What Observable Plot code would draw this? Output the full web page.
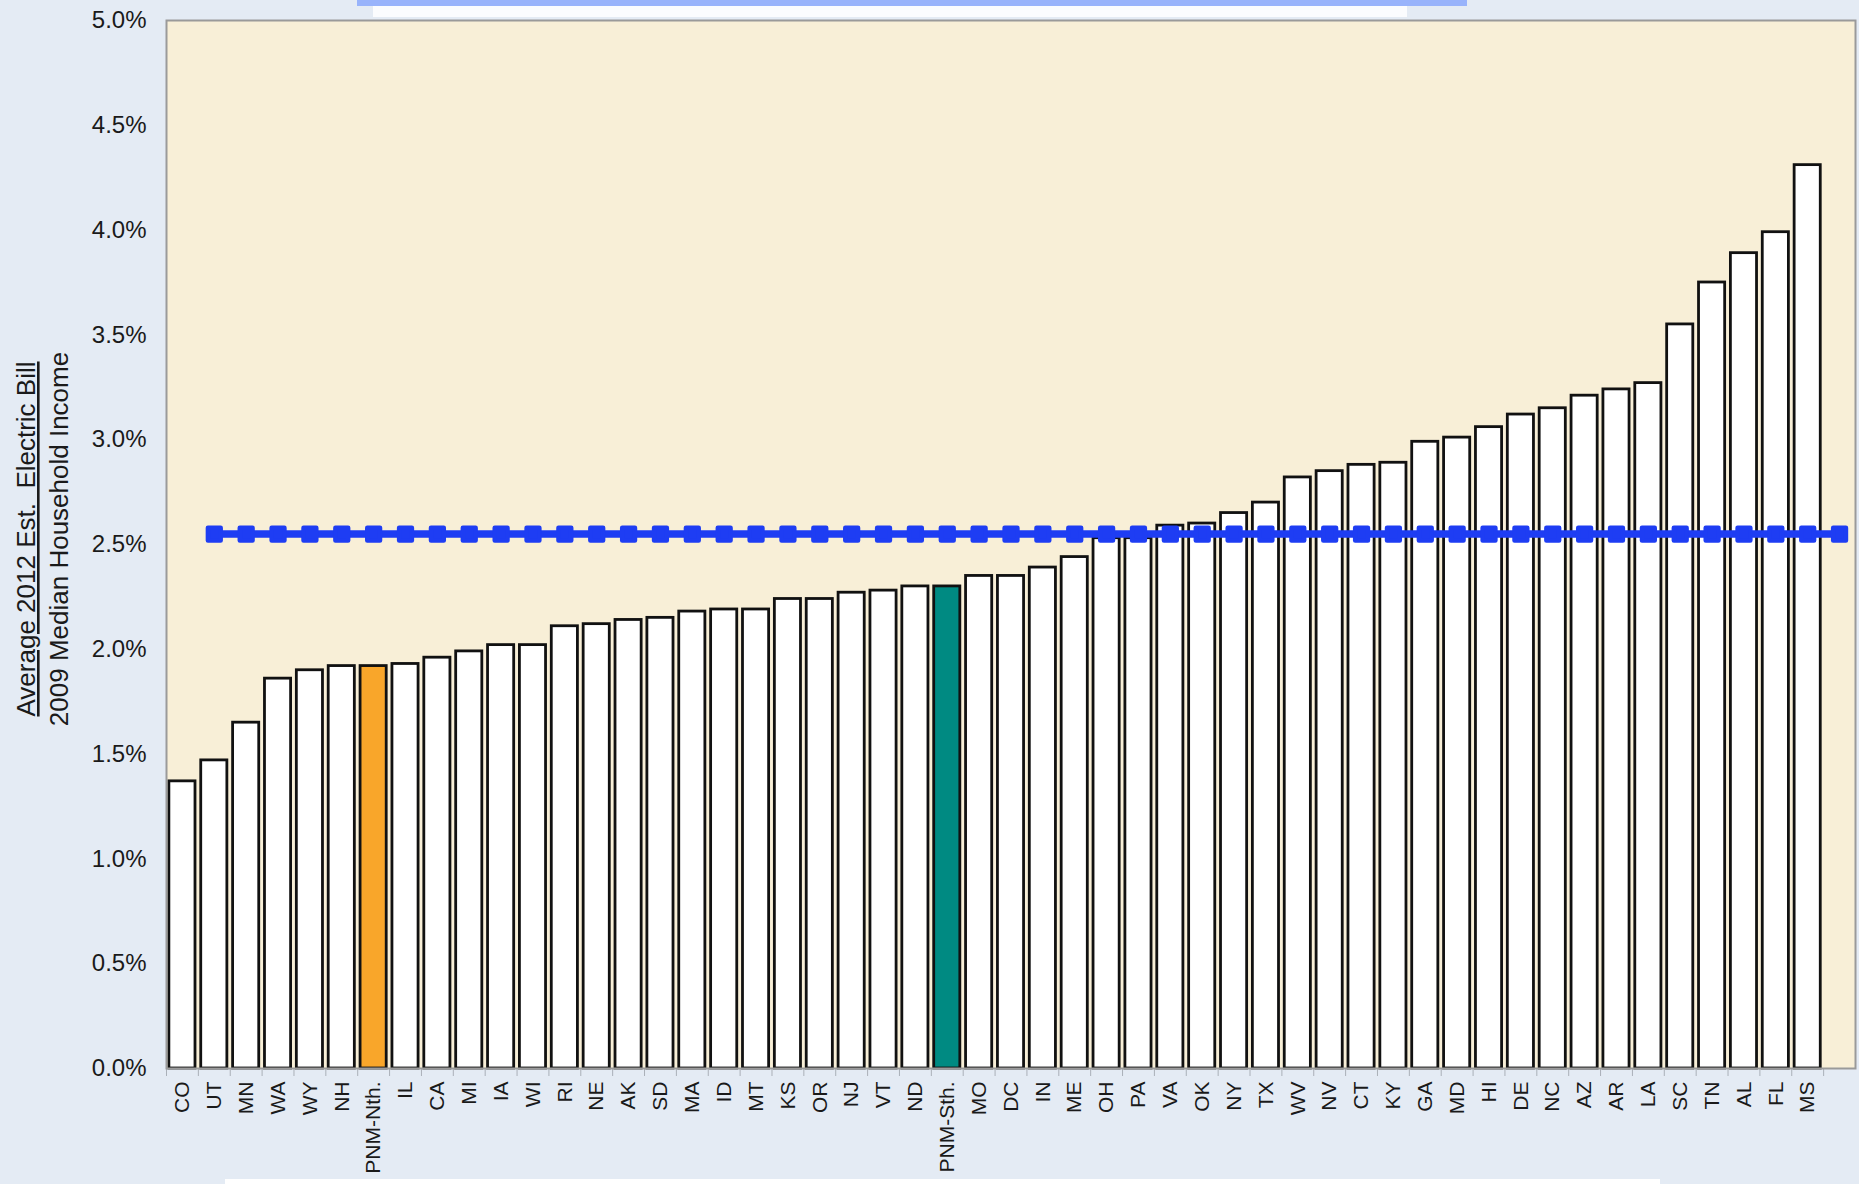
<!DOCTYPE html>
<html><head><meta charset="utf-8">
<script src="https://cdn.jsdelivr.net/npm/d3@7"></script>
<script src="https://cdn.jsdelivr.net/npm/@observablehq/plot@0.6"></script>
<style>
html,body{margin:0;padding:0;background:#e4ebf4;overflow:hidden;}
#wrap{position:relative;width:1859px;height:1184px;background:#e4ebf4;}
.deco{position:absolute;}
</style></head><body>
<div id="wrap"></div>
<script>
const categories = ["CO","UT","MN","WA","WY","NH","PNM-Nth.","IL","CA","MI","IA","WI","RI","NE","AK","SD","MA","ID","MT","KS","OR","NJ","VT","ND","PNM-Sth.","MO","DC","IN","ME","OH","PA","VA","OK","NY","TX","WV","NV","CT","KY","GA","MD","HI","DE","NC","AZ","AR","LA","SC","TN","AL","FL","MS"];
const values = [1.37,1.47,1.65,1.86,1.90,1.92,1.92,1.93,1.96,1.99,2.02,2.02,2.11,2.12,2.14,2.15,2.18,2.19,2.19,2.24,2.24,2.27,2.28,2.30,2.30,2.35,2.35,2.39,2.44,2.53,2.53,2.59,2.60,2.65,2.70,2.82,2.85,2.88,2.89,2.99,3.01,3.06,3.12,3.15,3.21,3.24,3.27,3.55,3.75,3.89,3.99,4.31];
const benchmarkValue = 2.55;
const yTicks = [0,0.5,1,1.5,2,2.5,3,3.5,4,4.5,5];
const blankSlot = "";
const yTitle1 = "Average 2012 Est.  Electric Bill";
const yTitle2 = "2009 Median Household Income";

const data = categories.map((c, i) => ({cat: c, value: values[i]}));
const domain = categories.concat([blankSlot]);
const lineData = domain.slice(1).map(c => ({cat: c, value: benchmarkValue}));

const W = 1859, H = 1184, ML = 166, MR = 4, MT = 20, MB = 116;
const step = (W - ML - MR) / domain.length;
const FONT = "Liberation Sans, Arial, Helvetica, sans-serif";
const BLUE = "#1e3df3";

const chart = Plot.plot({
  width: W, height: H,
  marginLeft: ML, marginRight: MR, marginTop: MT, marginBottom: MB,
  style: {background: "transparent", fontFamily: FONT, color: "#1a1a1a"},
  x: {type: "band", domain, paddingInner: 0.18, paddingOuter: 0.09, label: null},
  y: {domain: [0, 5], label: null},
  color: {type: "identity"},
  marks: [
    Plot.frame({fill: "#f8efd7", stroke: null}),
    Plot.axisY({ticks: yTicks, tickFormat: d => d.toFixed(1) + "%", tickSize: 0, tickPadding: 20, fontSize: 24, label: null}),
    Plot.axisX({tickSize: 8, fill: "none", dx: -step / 2, stroke: "#aab0b8", label: null}),
    Plot.axisX({tickSize: 0, tickRotate: -90, tickPadding: 13, fontSize: 21, tickFormat: d => d, label: null}),
    Plot.barY(data, {
      x: "cat", y: "value",
      fill: d => d.cat === "PNM-Nth." ? "#f9a62a" : d.cat === "PNM-Sth." ? "#008a82" : "#ffffff",
      stroke: "#111", strokeWidth: 2.8
    }),
    Plot.lineY(lineData, {x: "cat", y: "value", stroke: BLUE, strokeWidth: 7.5}),
    Plot.dot(lineData, {x: "cat", y: "value", symbol: "square", r: 7.2, fill: BLUE, stroke: BLUE, strokeWidth: 4.5, strokeLinejoin: "round"}),
    Plot.frame({stroke: "#9a9a9a", strokeWidth: 2})
  ]
});

const svg = d3.select(chart);
const g = svg.append("g").attr("font-family", FONT).attr("font-size", 26).attr("fill", "#1a1a1a");
g.append("text")
  .attr("transform", "translate(35,539) rotate(-90)")
  .attr("text-anchor", "middle")
  .attr("text-decoration", "underline")
  .style("white-space", "pre")
  .text(yTitle1);
g.append("text")
  .attr("transform", "translate(68,539) rotate(-90)")
  .attr("text-anchor", "middle")
  .text(yTitle2);

const wrap = document.getElementById("wrap");
wrap.appendChild(chart);
function deco(l, t, w, h, bg) {
  const d = document.createElement("div");
  d.className = "deco";
  Object.assign(d.style, {left: l + "px", top: t + "px", width: w + "px", height: h + "px", background: bg});
  wrap.appendChild(d);
}
deco(357, 0, 1110, 6, "#98b3fb");
deco(373, 6, 1034, 11, "#fbfcfe");
deco(225, 1179, 1435, 5, "#ffffff");
</script>
</body></html>
